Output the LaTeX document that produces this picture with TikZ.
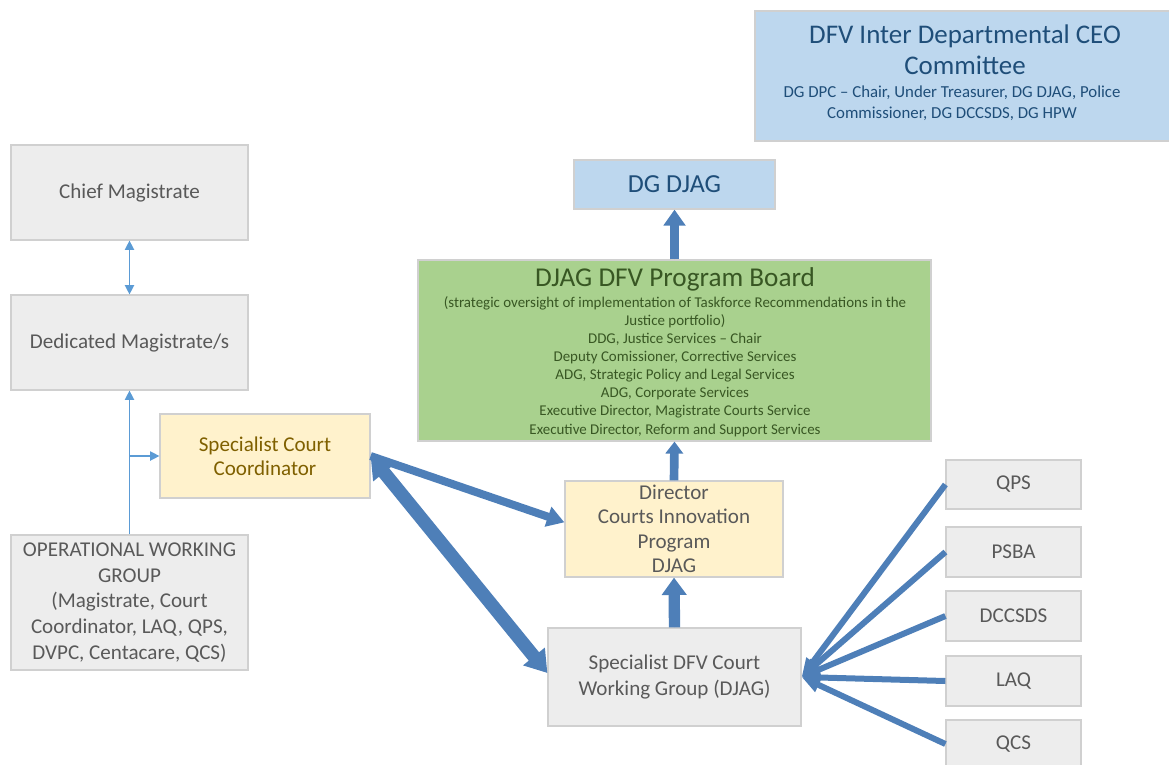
\documentclass[tikz,border=0pt]{standalone}
\usepackage{fontspec}
\setmainfont{Carlito}
\usetikzlibrary{arrows.meta}
\definecolor{grayfill}{HTML}{EDEDED}
\definecolor{grayline}{HTML}{D0D0D0}
\definecolor{graytext}{HTML}{595959}
\definecolor{bluefill}{HTML}{BDD7EE}
\definecolor{bluetext}{HTML}{1F4E79}
\definecolor{greenfill}{HTML}{A9D18E}
\definecolor{greentext}{HTML}{385723}
\definecolor{yellowfill}{HTML}{FFF2CC}
\definecolor{yellowtext}{HTML}{7F6000}
\definecolor{arrowblue}{HTML}{4E7FB8}
\definecolor{thinblue}{HTML}{5B9BD5}
\tikzset{
  box/.style={draw=grayline, line width=0.9pt, inner sep=0pt, align=center},
  graybox/.style={box, fill=grayfill, text=graytext, font=\fontsize{15.8}{19}\selectfont},
  bluebox/.style={box, fill=bluefill, text=bluetext},
  greenbox/.style={box, fill=greenfill, text=greentext},
  yellowbox/.style={box, fill=yellowfill, text=yellowtext, font=\fontsize{15.8}{18.2}\selectfont},
  thinarrow/.style={draw=thinblue, line width=1pt, -{Triangle[length=7pt,width=7pt]}},
  blockarrow/.style={draw=arrowblue, fill=arrowblue},
}
% box from corner (x1,y1) to corner (x2,y2), pixel units
\newcommand\cornerbox[7][]{%
  \node[#1, minimum width={(#5-#3)*0.75pt}, minimum height={(#6-#4)*0.75pt}] (#2) at ({(#3+#5)/2},{(#4+#6)/2}) {#7};}
\begin{document}
\begin{tikzpicture}[x=0.75pt,y=-0.75pt]
\useasboundingbox (0,0) rectangle (1169,764);
% nodes
\cornerbox[bluebox]{ceo}{755}{11}{1172}{141}{}
\node[text=bluetext, align=center, font=\fontsize{20.2}{23}\selectfont] at (965,50) {DFV Inter Departmental CEO\\Committee};
\node[text=bluetext, align=center, font=\fontsize{12.6}{16}\selectfont] at (952,103) {DG DPC -- Chair, Under Treasurer, DG DJAG, Police\\Commissioner, DG DCCSDS, DG HPW};

\cornerbox[graybox]{chief}{11}{145}{248}{240}{Chief Magistrate}
\cornerbox[graybox]{ded}{11}{295}{248}{390}{Dedicated Magistrate/s}
\cornerbox[yellowbox]{coord}{160}{414}{370}{498}{Specialist Court\\Coordinator}
\cornerbox[graybox, font=\fontsize{15.8}{19.2}\selectfont]{owg}{11}{535}{248}{670}{OPERATIONAL WORKING\\GROUP\\(Magistrate, Court\\Coordinator, LAQ, QPS,\\DVPC, Centacare, QCS)}

\cornerbox[bluebox, font=\fontsize{19.5}{22}\selectfont]{djag}{574}{160}{775}{209}{DG DJAG}
\cornerbox[greenbox]{board}{418}{260}{931}{441}{}
\node[text=greentext, font=\fontsize{20.4}{22}\selectfont] at (675,279) {DJAG DFV Program Board};
\node[text=greentext, align=center, font=\fontsize{11.2}{13.5}\selectfont, anchor=north] at (675,292) {(strategic oversight of implementation of Taskforce Recommendations in the\\Justice portfolio)\\DDG, Justice Services -- Chair\\Deputy Comissioner, Corrective Services\\ADG, Strategic Policy and Legal Services\\ADG, Corporate Services\\Executive Director, Magistrate Courts Service\\[1pt]Executive Director, Reform and Support Services};

\cornerbox[yellowbox, text=graytext, font=\fontsize{15.8}{18.4}\selectfont]{dir}{565}{481}{783}{577}{Director\\Courts Innovation\\Program\\DJAG}
\cornerbox[graybox]{wg}{548}{628}{801}{726}{Specialist DFV Court\\Working Group (DJAG)}

\cornerbox[graybox]{qps}{946}{460}{1081}{509}{QPS}
\cornerbox[graybox]{psba}{946}{527}{1081}{577}{PSBA}
\cornerbox[graybox]{dccsds}{946}{591}{1081}{641}{DCCSDS}
\cornerbox[graybox]{laq}{946}{656}{1081}{706}{LAQ}
\cornerbox[graybox]{qcs}{946}{720}{1081}{768}{QCS}

% thin arrows
\draw[thinarrow, {Triangle[length=7pt,width=7pt]}-{Triangle[length=7pt,width=7pt]}] (chief.south) -- (ded.north);
\draw[thinarrow] (owg.north) -- (ded.south);
\draw[thinarrow] (owg.north |- coord.west) -- (coord.west);

% block arrows
\draw[blockarrow, line width=7pt, -{Triangle[length=12pt,width=16pt]}] (board.north) -- (djag.south);
\draw[blockarrow, line width=6.5pt, -{Triangle[length=9pt,width=13pt]}] (dir.north) -- (board.south);
\draw[blockarrow, line width=8.5pt, -{Triangle[length=13pt,width=18pt]}] (wg.north) -- (dir.south);
\draw[blockarrow, line width=6pt, -{Triangle[length=13pt,width=15pt]}] (coord.east) -- ([yshift=5pt]dir.west);
\draw[blockarrow, line width=10pt, {Triangle[length=16pt,width=20pt]}-{Triangle[length=16pt,width=20pt]}] (coord.east) -- ([yshift=3pt]wg.west);

\foreach \n in {qps,psba,dccsds,laq,qcs}{
  \draw[blockarrow, line width=4.5pt, -{Triangle[length=14pt,width=11pt]}] (\n.west) -- (wg.east);
}
\end{tikzpicture}
\end{document}
